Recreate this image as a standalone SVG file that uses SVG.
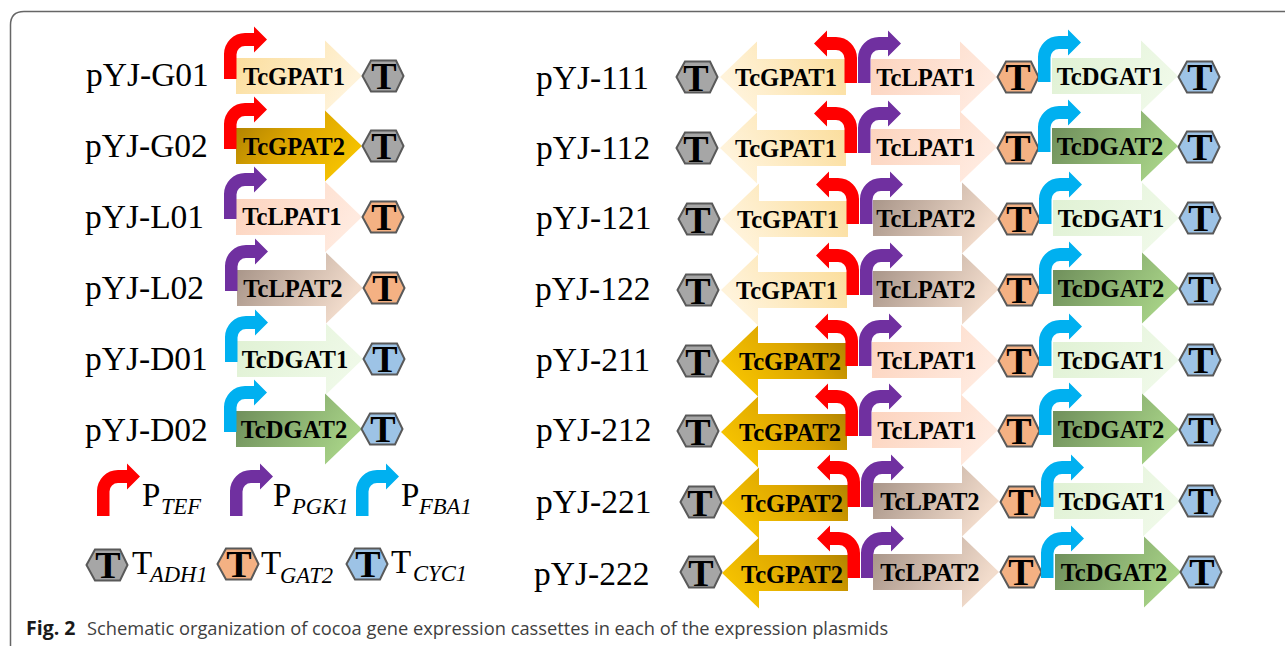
<svg xmlns="http://www.w3.org/2000/svg" xmlns:xlink="http://www.w3.org/1999/xlink" width="1285" height="647" viewBox="0 0 1285 647">
<style>
.g{font:bold 24.6px "Liberation Serif",serif;fill:#000;text-anchor:middle}
.n{font:33.5px "Liberation Serif",serif;fill:#000}
.t{font:bold 38px "Liberation Serif",serif;fill:#000;text-anchor:middle}
.l{font:33px "Liberation Serif",serif;fill:#000}
.s{font:italic 22.600px "Liberation Serif",serif;fill:#000}
.cap{font:18.300px "Open Sans",sans-serif;fill:#3f3f3f}
.fig{font:bold 19.500px "Open Sans",sans-serif;fill:#1a1a1a}
.hx{stroke:#595959;stroke-width:2}
</style>
<defs>
<linearGradient id="gG1" x1="0" y1="0" x2="1" y2="0.35"><stop offset="0" stop-color="#FBDC98"/><stop offset="1" stop-color="#FFF3DA"/></linearGradient>
<linearGradient id="gG2" x1="0" y1="0" x2="1" y2="0.5"><stop offset="0" stop-color="#A87B00"/><stop offset="0.5" stop-color="#DDA600"/><stop offset="1" stop-color="#F5C200"/></linearGradient>
<linearGradient id="gL1" x1="0" y1="0" x2="1" y2="0.35"><stop offset="0" stop-color="#FCD2BC"/><stop offset="1" stop-color="#FFEADF"/></linearGradient>
<linearGradient id="gL2" x1="0" y1="0" x2="1" y2="0.35"><stop offset="0" stop-color="#A39084"/><stop offset="1" stop-color="#F2DCCC"/></linearGradient>
<linearGradient id="gD1" x1="0" y1="0" x2="1" y2="0.35"><stop offset="0" stop-color="#DFF1D3"/><stop offset="1" stop-color="#EFF9E8"/></linearGradient>
<linearGradient id="gD2" x1="0" y1="0" x2="1" y2="0.35"><stop offset="0" stop-color="#6B8A58"/><stop offset="1" stop-color="#A6D186"/></linearGradient>
<path id="arrow" d="M0-18H89V-35.5L126 0 89 35.5V18H0Z"/>
<path id="prom" d="M0 0V-25A21 21 0 0 1 21-46H30V-52.500L43-39.500 30-26.500V-33H21A8.500 8.500 0 0 0 12.500-24.500V0Z"/>
<path id="hex" d="M-20.500 0-12-15.500H13L20.500 0 13 15.500H-12Z"/>
<g id="tG" class="hx"><use xlink:href="#hex" href="#hex" fill="#A6A6A6"/></g>
<g id="tL" class="hx"><use xlink:href="#hex" href="#hex" fill="#F4B183"/></g>
<g id="tD" class="hx"><use xlink:href="#hex" href="#hex" fill="#9DC3E6"/></g>
</defs>
<path id="frame" d="M10.500 646V25Q10.500 11.500 24 11.500H1285" fill="none" stroke="#666" stroke-width="1.500"/>
<g id="caption"><text class="fig" x="26" y="635">Fig. 2</text><text class="cap" x="87" y="635">Schematic organization of cocoa gene expression cassettes in each of the expression plasmids</text></g>

<g id="connectors"></g>

<!-- left column -->
<g id="pYJ-G01"><text class="n" x="86" y="86">pYJ-G01</text>
<use href="#arrow" fill="url(#gG1)" transform="translate(236,76)"/><use href="#prom" fill="#F00" transform="translate(224,79)"/>
<text class="g" x="294" y="85">TcGPAT1</text><use href="#tG" transform="translate(383,76)"/><text class="t" x="384" y="89">T</text></g>
<g id="pYJ-G02"><text class="n" x="85" y="157">pYJ-G02</text>
<use href="#arrow" fill="url(#gG2)" transform="translate(236,146)"/><use href="#prom" fill="#F00" transform="translate(224,149)"/>
<text class="g" x="294" y="155">TcGPAT2</text><use href="#tG" transform="translate(383,146)"/><text class="t" x="384" y="159">T</text></g>
<g id="pYJ-L01"><text class="n" x="85" y="228">pYJ-L01</text>
<use href="#arrow" fill="url(#gL1)" transform="translate(236,217)"/><use href="#prom" fill="#7030A0" transform="translate(224,219)"/>
<text class="g" x="292" y="225">TcLPAT1</text><use href="#tL" transform="translate(383,217)"/><text class="t" x="384" y="230">T</text></g>
<g id="pYJ-L02"><text class="n" x="85" y="299">pYJ-L02</text>
<use href="#arrow" fill="url(#gL2)" transform="translate(237,288)"/><use href="#prom" fill="#7030A0" transform="translate(225,291)"/>
<text class="g" x="293" y="297">TcLPAT2</text><use href="#tL" transform="translate(384,288)"/><text class="t" x="385" y="301">T</text></g>
<g id="pYJ-D01"><text class="n" x="85" y="370">pYJ-D01</text>
<use href="#arrow" fill="url(#gD1)" transform="translate(237,359)"/><use href="#prom" fill="#00B0F0" transform="translate(225,362)"/>
<text class="g" x="295" y="368">TcDGAT1</text><use href="#tD" transform="translate(384,359)"/><text class="t" x="385" y="372">T</text></g>
<g id="pYJ-D02"><text class="n" x="85" y="441">pYJ-D02</text>
<use href="#arrow" fill="url(#gD2)" transform="translate(236,429)"/><use href="#prom" fill="#00B0F0" transform="translate(224,432)"/>
<text class="g" x="294" y="438">TcDGAT2</text><use href="#tD" transform="translate(382,429)"/><text class="t" x="383" y="442">T</text></g>

<!-- legend -->
<g id="legend-TEF"><use href="#prom" fill="#F00" transform="translate(97,516)"/><text class="l" x="142" y="506">P</text><text class="s" x="161" y="514">TEF</text></g>
<g id="legend-PGK1"><use href="#prom" fill="#7030A0" transform="translate(230,516)"/><text class="l" x="273" y="506">P</text><text class="s" x="292" y="514">PGK1</text></g>
<g id="legend-FBA1"><use href="#prom" fill="#00B0F0" transform="translate(356,516)"/><text class="l" x="401" y="506">P</text><text class="s" x="419" y="514">FBA1</text></g>
<g id="legend-ADH1"><use href="#tG" transform="translate(107,565)"/><text class="t" x="108" y="578">T</text><text class="l" x="132" y="574">T</text><text class="s" x="150" y="582">ADH1</text></g>
<g id="legend-GAT2"><use href="#tL" transform="translate(238,564)"/><text class="t" x="239" y="577">T</text><text class="l" x="261" y="574">T</text><text class="s" x="280" y="583">GAT2</text></g>
<g id="legend-CYC1"><use href="#tD" transform="translate(367,564)"/><text class="t" x="368" y="577">T</text><text class="l" x="391" y="573">T</text><text class="s" x="413" y="581">CYC1</text></g>

<!-- right column -->
<g id="pYJ-111"><text class="n" x="536" y="89">pYJ-111</text>
<use href="#tG" transform="translate(697,77)"/><text class="t" x="696" y="91">T</text>
<use href="#arrow" fill="url(#gG1)" transform="translate(846,77) scale(-1,1)"/><text class="g" x="786" y="86">TcGPAT1</text>
<use href="#prom" fill="#F00" transform="translate(857,83) scale(-1,1)"/><use href="#prom" fill="#7030A0" transform="translate(858,83)"/>
<use href="#arrow" fill="url(#gL1)" transform="translate(871,77)"/><text class="g" x="926" y="86">TcLPAT1</text>
<use href="#tL" transform="translate(1018,77)"/><text class="t" x="1018" y="90">T</text>
<use href="#arrow" fill="url(#gD1)" transform="translate(1052,76)"/><use href="#prom" fill="#00B0F0" transform="translate(1038,82)"/><text class="g" x="1110" y="85">TcDGAT1</text>
<use href="#tD" transform="translate(1199,77)"/><text class="t" x="1200" y="90">T</text></g>
<g id="pYJ-112"><text class="n" x="536" y="159">pYJ-112</text>
<use href="#tG" transform="translate(697,148)"/><text class="t" x="696" y="162">T</text>
<use href="#arrow" fill="url(#gG1)" transform="translate(846,148) scale(-1,1)"/><text class="g" x="786" y="157">TcGPAT1</text>
<use href="#prom" fill="#F00" transform="translate(857,153) scale(-1,1)"/><use href="#prom" fill="#7030A0" transform="translate(858,153)"/>
<use href="#arrow" fill="url(#gL1)" transform="translate(871,147)"/><text class="g" x="926" y="156">TcLPAT1</text>
<use href="#tL" transform="translate(1018,148)"/><text class="t" x="1018" y="161">T</text>
<use href="#arrow" fill="url(#gD2)" transform="translate(1052,146)"/><use href="#prom" fill="#00B0F0" transform="translate(1038,152)"/><text class="g" x="1110" y="155">TcDGAT2</text>
<use href="#tD" transform="translate(1199,147)"/><text class="t" x="1200" y="160">T</text></g>
<g id="pYJ-121"><text class="n" x="536" y="229">pYJ-121</text>
<use href="#tG" transform="translate(699,219)"/><text class="t" x="698" y="233">T</text>
<use href="#arrow" fill="url(#gG1)" transform="translate(848,219) scale(-1,1)"/><text class="g" x="788" y="228">TcGPAT1</text>
<use href="#prom" fill="#F00" transform="translate(859,224) scale(-1,1)"/><use href="#prom" fill="#7030A0" transform="translate(860,224)"/>
<use href="#arrow" fill="url(#gL2)" transform="translate(873,218)"/><text class="g" x="926" y="227">TcLPAT2</text>
<use href="#tL" transform="translate(1019,219)"/><text class="t" x="1019" y="232">T</text>
<use href="#arrow" fill="url(#gD1)" transform="translate(1053,218)"/><use href="#prom" fill="#00B0F0" transform="translate(1039,224)"/><text class="g" x="1111" y="227">TcDGAT1</text>
<use href="#tD" transform="translate(1200,218)"/><text class="t" x="1201" y="231">T</text></g>
<g id="pYJ-122"><text class="n" x="535" y="300">pYJ-122</text>
<use href="#tG" transform="translate(698,290)"/><text class="t" x="698" y="304">T</text>
<use href="#arrow" fill="url(#gG1)" transform="translate(847,290) scale(-1,1)"/><text class="g" x="787" y="299">TcGPAT1</text>
<use href="#prom" fill="#F00" transform="translate(859,295) scale(-1,1)"/><use href="#prom" fill="#7030A0" transform="translate(860,295)"/>
<use href="#arrow" fill="url(#gL2)" transform="translate(873,289)"/><text class="g" x="926" y="298">TcLPAT2</text>
<use href="#tL" transform="translate(1019,290)"/><text class="t" x="1019" y="303">T</text>
<use href="#arrow" fill="url(#gD2)" transform="translate(1053,288)"/><use href="#prom" fill="#00B0F0" transform="translate(1039,294)"/><text class="g" x="1111" y="297">TcDGAT2</text>
<use href="#tD" transform="translate(1200,289)"/><text class="t" x="1201" y="302">T</text></g>
<g id="pYJ-211"><text class="n" x="536" y="371">pYJ-211</text>
<use href="#tG" transform="translate(698,361)"/><text class="t" x="698" y="375">T</text>
<use href="#arrow" fill="url(#gG2)" transform="translate(847,361) scale(-1,1)"/><text class="g" x="790" y="370">TcGPAT2</text>
<use href="#prom" fill="#F00" transform="translate(858,366) scale(-1,1)"/><use href="#prom" fill="#7030A0" transform="translate(859,366)"/>
<use href="#arrow" fill="url(#gL1)" transform="translate(872,360)"/><text class="g" x="927" y="369">TcLPAT1</text>
<use href="#tL" transform="translate(1019,361)"/><text class="t" x="1019" y="374">T</text>
<use href="#arrow" fill="url(#gD1)" transform="translate(1053,360)"/><use href="#prom" fill="#00B0F0" transform="translate(1039,366)"/><text class="g" x="1111" y="369">TcDGAT1</text>
<use href="#tD" transform="translate(1200,360)"/><text class="t" x="1201" y="373">T</text></g>
<g id="pYJ-212"><text class="n" x="536" y="441">pYJ-212</text>
<use href="#tG" transform="translate(698,431)"/><text class="t" x="698" y="445">T</text>
<use href="#arrow" fill="url(#gG2)" transform="translate(847,432) scale(-1,1)"/><text class="g" x="790" y="441">TcGPAT2</text>
<use href="#prom" fill="#F00" transform="translate(858,436) scale(-1,1)"/><use href="#prom" fill="#7030A0" transform="translate(859,436)"/>
<use href="#arrow" fill="url(#gL1)" transform="translate(872,430)"/><text class="g" x="927" y="439">TcLPAT1</text>
<use href="#tL" transform="translate(1019,431)"/><text class="t" x="1019" y="444">T</text>
<use href="#arrow" fill="url(#gD2)" transform="translate(1053,429)"/><use href="#prom" fill="#00B0F0" transform="translate(1039,435)"/><text class="g" x="1111" y="438">TcDGAT2</text>
<use href="#tD" transform="translate(1200,430)"/><text class="t" x="1201" y="443">T</text></g>
<g id="pYJ-221"><text class="n" x="536" y="513">pYJ-221</text>
<use href="#tG" transform="translate(701,502)"/><text class="t" x="700" y="516">T</text>
<use href="#arrow" fill="url(#gG2)" transform="translate(848,503) scale(-1,1)"/><text class="g" x="792" y="512">TcGPAT2</text>
<use href="#prom" fill="#F00" transform="translate(860,507) scale(-1,1)"/><use href="#prom" fill="#7030A0" transform="translate(861,507)"/>
<use href="#arrow" fill="url(#gL2)" transform="translate(873,501)"/><text class="g" x="930" y="510">TcLPAT2</text>
<use href="#tL" transform="translate(1021,502)"/><text class="t" x="1021" y="515">T</text>
<use href="#arrow" fill="url(#gD1)" transform="translate(1054,501)"/><use href="#prom" fill="#00B0F0" transform="translate(1041,507)"/><text class="g" x="1112" y="510">TcDGAT1</text>
<use href="#tD" transform="translate(1200,501)"/><text class="t" x="1201" y="514">T</text></g>
<g id="pYJ-222"><text class="n" x="534" y="585">pYJ-222</text>
<use href="#tG" transform="translate(701,572)"/><text class="t" x="701" y="586">T</text>
<use href="#arrow" fill="url(#gG2)" transform="translate(848,573) scale(-1,1)"/><text class="g" x="792" y="583">TcGPAT2</text>
<use href="#prom" fill="#F00" transform="translate(860,578) scale(-1,1)"/><use href="#prom" fill="#7030A0" transform="translate(861,578)"/>
<use href="#arrow" fill="url(#gL2)" transform="translate(873,572)"/><text class="g" x="930" y="581">TcLPAT2</text>
<use href="#tL" transform="translate(1021,572)"/><text class="t" x="1021" y="585">T</text>
<use href="#arrow" fill="url(#gD2)" transform="translate(1055,572)"/><use href="#prom" fill="#00B0F0" transform="translate(1041,578)"/><text class="g" x="1114" y="581">TcDGAT2</text>
<use href="#tD" transform="translate(1201,572)"/><text class="t" x="1202" y="585">T</text></g>
</svg>
